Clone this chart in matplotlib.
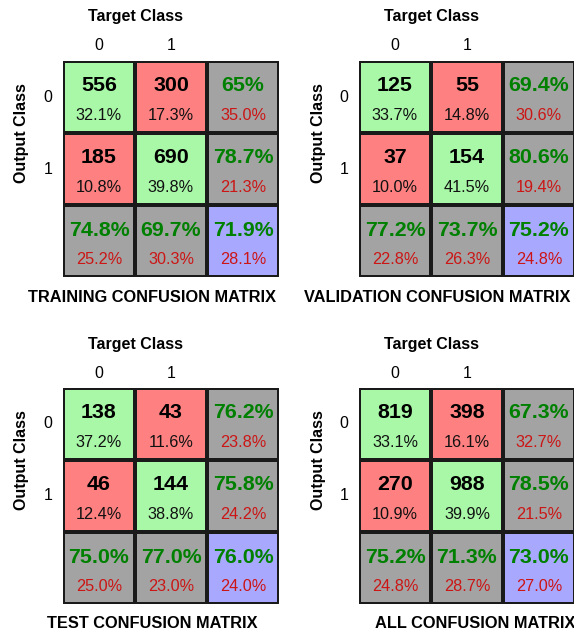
import matplotlib
matplotlib.use("Agg")
import matplotlib.pyplot as plt
import numpy as np
from matplotlib.colors import ListedColormap

plt.rcParams['font.family'] = ['Liberation Sans', 'DejaVu Sans']

W, H = 574, 632

classes = ["0", "1"]

# counts and percentage of total for the 2x2 block
train_counts = [[556, 300], [185, 690]]
train_pct = [[32.1, 17.3], [10.8, 39.8]]
train_row_ok = ["65%", "78.7%"]
train_row_err = ["35.0%", "21.3%"]
train_col_ok = ["74.8%", "69.7%"]
train_col_err = ["25.2%", "30.3%"]
train_all = ["71.9%", "28.1%"]

val_counts = [[125, 55], [37, 154]]
val_pct = [[33.7, 14.8], [10.0, 41.5]]
val_row_ok = ["69.4%", "80.6%"]
val_row_err = ["30.6%", "19.4%"]
val_col_ok = ["77.2%", "73.7%"]
val_col_err = ["22.8%", "26.3%"]
val_all = ["75.2%", "24.8%"]

test_counts = [[138, 43], [46, 144]]
test_pct = [[37.2, 11.6], [12.4, 38.8]]
test_row_ok = ["76.2%", "75.8%"]
test_row_err = ["23.8%", "24.2%"]
test_col_ok = ["75.0%", "77.0%"]
test_col_err = ["25.0%", "23.0%"]
test_all = ["76.0%", "24.0%"]

all_counts = [[819, 398], [270, 988]]
all_pct = [[33.1, 16.1], [10.9, 39.9]]
all_row_ok = ["67.3%", "78.5%"]
all_row_err = ["32.7%", "21.5%"]
all_col_ok = ["75.2%", "71.3%"]
all_col_err = ["24.8%", "28.7%"]
all_all = ["73.0%", "27.0%"]

# cell colours: 0 correct, 1 wrong, 2 summary, 3 overall
cmap = ListedColormap(["#a8f8a8", "#ff8080", "#a3a3a3", "#a8a8ff"])
GREEN = "#008000"
RED = "#cc1515"


def px(x, y):
    return x / W, 1 - y / H


def panel(fig, left, top, title, title_x, counts, pct, row_ok, row_err,
          col_ok, col_err, tot):
    size = 216
    ax = fig.add_axes([left / W, 1 - (top + size) / H, size / W, size / H])
    kind = np.array([[0, 1, 2], [1, 0, 2], [2, 2, 3]])
    ax.pcolormesh(np.arange(4), np.arange(4), kind, cmap=cmap, vmin=-0.5, vmax=3.5,
                  edgecolors="#1a1a1a", linewidth=1.5)
    ax.set_xlim(0, 3)
    ax.set_ylim(3, 0)
    ax.axis("off")

    for i in range(2):
        for j in range(2):
            ax.text(j + 0.5, i + 0.34, str(counts[i][j]), ha="center", va="center",
                    fontsize=15.4, fontweight="bold", color="black")
            ax.text(j + 0.5, i + 0.76, "%.1f%%" % pct[i][j], ha="center", va="center",
                    fontsize=11.7, color="#111111")
        ax.text(2.5, i + 0.34, row_ok[i], ha="center", va="center",
                fontsize=15.4, fontweight="bold", color=GREEN)
        ax.text(2.5, i + 0.76, row_err[i], ha="center", va="center",
                fontsize=11.7, color=RED)
        ax.text(i + 0.5, 2.36, col_ok[i], ha="center", va="center",
                fontsize=15.4, fontweight="bold", color=GREEN)
        ax.text(i + 0.5, 2.76, col_err[i], ha="center", va="center",
                fontsize=11.7, color=RED)
    ax.text(2.5, 2.36, tot[0], ha="center", va="center",
            fontsize=15.4, fontweight="bold", color=GREEN)
    ax.text(2.5, 2.76, tot[1], ha="center", va="center", fontsize=11.7, color=RED)

    fig.text(*px(left + 72, top - 44), "Target Class", ha="center", va="center",
             fontsize=11.5, fontweight="bold")
    for k, c in enumerate(classes):
        fig.text(*px(left + 36 + 72 * k, top - 15), c, ha="center", va="center",
                 fontsize=11.5)
        fig.text(*px(left - 15, top + 36 + 72 * k), c, ha="center", va="center",
                 fontsize=11.5)
    fig.text(*px(left - 41, top + 72), "Output Class", ha="center", va="center",
             rotation=90, fontsize=11.5, fontweight="bold")
    fig.text(*px(title_x, top + size + 20), title, ha="center", va="center",
             fontsize=11.8, fontweight="bold")


fig = plt.figure(figsize=(W / 100, H / 100), dpi=100)

panel(fig, 63, 61, "TRAINING CONFUSION MATRIX", 152, train_counts, train_pct,
      train_row_ok, train_row_err, train_col_ok, train_col_err, train_all)
panel(fig, 359, 61, "VALIDATION CONFUSION MATRIX", 437, val_counts, val_pct,
      val_row_ok, val_row_err, val_col_ok, val_col_err, val_all)
panel(fig, 63, 388, "TEST CONFUSION MATRIX", 152, test_counts, test_pct,
      test_row_ok, test_row_err, test_col_ok, test_col_err, test_all)
panel(fig, 359, 388, "ALL CONFUSION MATRIX", 475, all_counts, all_pct,
      all_row_ok, all_row_err, all_col_ok, all_col_err, all_all)

fig.savefig("out.png", dpi=100)
